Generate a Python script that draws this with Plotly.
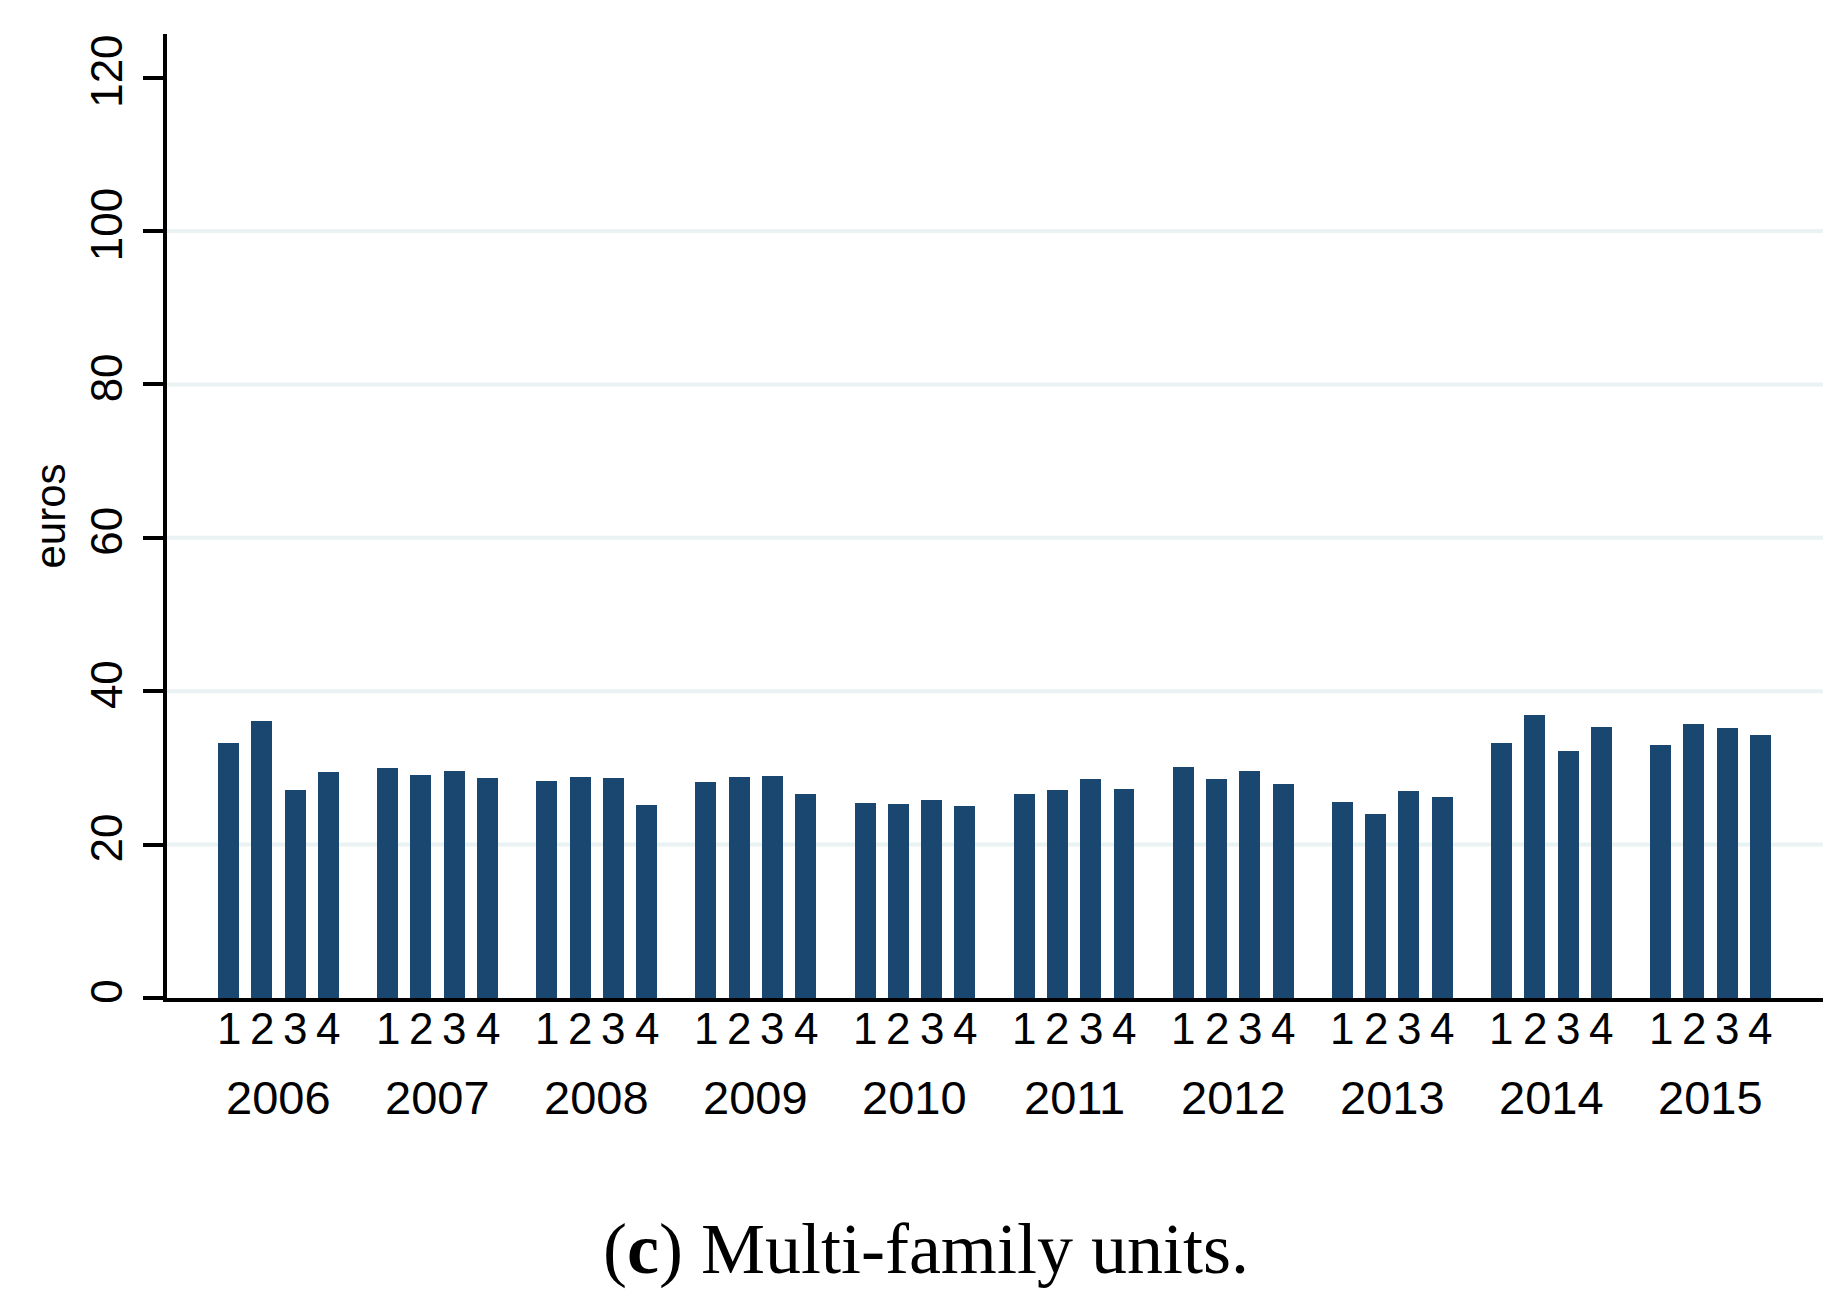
import plotly.graph_objects as go

years = ["2006", "2007", "2008", "2009", "2010", "2011", "2012", "2013", "2014", "2015"]
quarters = ["1", "2", "3", "4"]
values = [
    [33.3, 36.1, 27.1, 29.5],  # 2006
    [30.0, 29.1, 29.6, 28.7],  # 2007
    [28.3, 28.8, 28.7, 25.2],  # 2008
    [28.2, 28.8, 29.0, 26.6],  # 2009
    [25.4, 25.3, 25.8, 25.0],  # 2010
    [26.6, 27.1, 28.6, 27.3],  # 2011
    [30.1, 28.6, 29.6, 27.9],  # 2012
    [25.6, 24.0, 27.0, 26.2],  # 2013
    [33.3, 36.9, 32.2, 35.3],  # 2014
    [33.0, 35.7, 35.2, 34.3],  # 2015
]
y_ticks = [0, 20, 40, 60, 80, 100, 120]
grid_vals = [20, 40, 60, 80, 100]

GROUP = 4.78  # group spacing in bar units
BAR_COLOR = "#1A476F"
SANS = "Liberation Sans, Arial, sans-serif"
SERIF = "Liberation Serif, Times New Roman, serif"

# plot-area geometry (px)
W, H = 1848, 1307
L, R, T, B = 159, 33, 26, 317
PH = H - T - B


def py(pix):
    """pixel row -> paper y"""
    return (H - B - pix) / PH


xs, ys = [], []
for i, yr in enumerate(years):
    for q, qlab in enumerate(quarters):
        xs.append(i * GROUP + q)
        ys.append(values[i][q])

fig = go.Figure()
fig.add_trace(go.Bar(x=xs, y=ys, width=0.63, marker=dict(color=BAR_COLOR, line=dict(width=0)),
                     showlegend=False, hoverinfo="x+y"))

for g in grid_vals:
    fig.add_shape(type="line", xref="paper", x0=0, x1=1, yref="y", y0=g, y1=g,
                  line=dict(color="#EAF2F3", width=4), layer="below")

for i, yr in enumerate(years):
    for q, qlab in enumerate(quarters):
        fig.add_annotation(x=i * GROUP + q, xref="x", y=py(1021), yref="paper", text=qlab,
                           showarrow=False, font=dict(family=SANS, size=44, color="black"),
                           yanchor="middle", xanchor="center")
    fig.add_annotation(x=i * GROUP + 1.5, xref="x", y=py(1089), yref="paper", text=yr,
                       showarrow=False, font=dict(family=SANS, size=47, color="black"),
                       yanchor="middle", xanchor="center")

fig.add_annotation(x=(918 - L) / (W - L - R), xref="paper", y=py(1241), yref="paper",
                   text="(<b>c</b>) Multi-family units.", showarrow=False,
                   font=dict(family=SERIF, size=72, color="black"),
                   xanchor="center", yanchor="middle")

fig.update_layout(
    width=W, height=H,
    margin=dict(l=L, r=R, t=T, b=B, autoexpand=False),
    paper_bgcolor="white", plot_bgcolor="white",
    bargap=0,
    xaxis=dict(range=[-1.85, 9 * GROUP + 3 + 1.88], showticklabels=False,
               showgrid=False, zeroline=False, showline=True, linecolor="black", linewidth=4,
               ticks=""),
    yaxis=dict(range=[0, 125.7], tickmode="array", tickvals=y_ticks, showgrid=False, zeroline=False,
               showline=True, linecolor="black", linewidth=4, ticks="outside", ticklen=20, tickwidth=4,
               tickcolor="black", tickangle=-90, ticklabelstandoff=3,
               tickfont=dict(family=SANS, size=44, color="black"),
               title=dict(text="euros", font=dict(family=SANS, size=42, color="black"), standoff=5)),
)

fig.write_html("out.html")
